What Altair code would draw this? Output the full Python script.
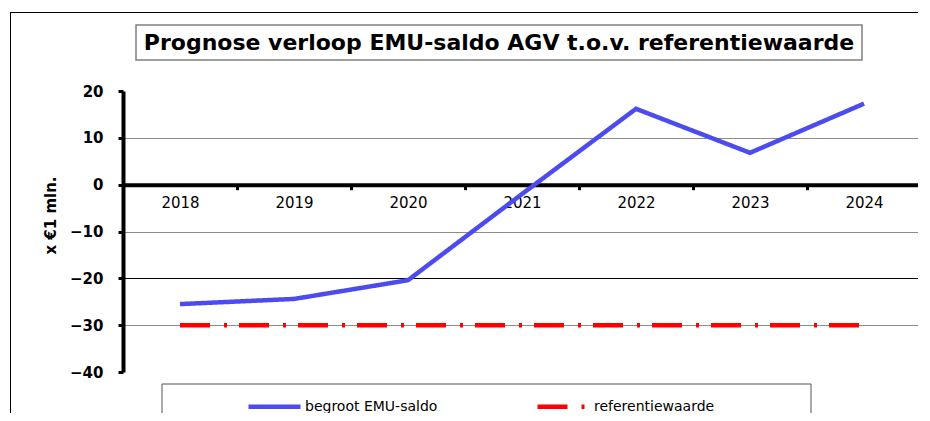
import altair as alt
import pandas as pd

# ---- data ----
years = ["2018", "2019", "2020", "2021", "2022", "2023", "2024"]
begroot_emu_saldo = [-25.5, -24.4, -20.4, -2.0, 16.2, 6.8, 17.3]
referentiewaarde = [-30, -30, -30, -30, -30, -30, -30]
series_names = ["begroot EMU-saldo", "referentiewaarde"]
y_ticks = [20, 10, 0, -10, -20, -30, -40]
title_text = "Prognose verloop EMU-saldo AGV t.o.v. referentiewaarde"
y_title = "x €1 mln."

rows = []
for yr, v in zip(years, begroot_emu_saldo):
    rows.append({"year": yr, "value": v, "series": series_names[0]})
for yr, v in zip(years, referentiewaarde):
    rows.append({"year": yr, "value": v, "series": series_names[1]})
df = pd.DataFrame(rows)

W, H = 798, 281
Y_MIN, Y_MAX = -40, 20
zero_px = H * Y_MAX / (Y_MAX - Y_MIN)
x_offset = -(H - zero_px)

BLUE = "#4b4bf0"
RED = "#ff0000"
FONT = "DejaVu Sans"

one = pd.DataFrame({"k": [0]})

frame_left = alt.Chart(one).mark_rect(fill="black", strokeWidth=0).encode(
    x=alt.value(-113), x2=alt.value(-112), y=alt.value(-79), y2=alt.value(H + 41)
)
frame_top = alt.Chart(one).mark_rect(fill="black", strokeWidth=0).encode(
    x=alt.value(-113), x2=alt.value(W - 2), y=alt.value(-79), y2=alt.value(-78)
)
edge_cover = alt.Chart(one).mark_rect(fill="white", strokeWidth=0).encode(
    x=alt.value(W - 3), x2=alt.value(W + 1), y=alt.value(-80), y2=alt.value(H + 41)
)

title_box = alt.Chart(one).mark_rect(fill="white", stroke="#808080", strokeWidth=1.5).encode(
    x=alt.value(13), x2=alt.value(739), y=alt.value(-66), y2=alt.value(-31)
)
title = alt.Chart(one).mark_text(
    text=title_text, font=FONT, fontWeight="bold", fontSize=22, color="black",
    align="center", baseline="middle"
).encode(x=alt.value(376), y=alt.value(-48))

legend_box_left = alt.Chart(one).mark_rule(color="#555555", strokeWidth=1).encode(
    x=alt.value(39), y=alt.value(293), y2=alt.value(H + 41)
)
legend_box_right = alt.Chart(one).mark_rule(color="#555555", strokeWidth=1).encode(
    x=alt.value(688), y=alt.value(293), y2=alt.value(H + 41)
)
legend_box_top = alt.Chart(one).mark_rule(color="#555555", strokeWidth=1).encode(
    x=alt.value(39), x2=alt.value(688), y=alt.value(293)
)

legend = alt.Legend(
    title=None, orient="none", legendX=123, legendY=287, direction="horizontal",
    symbolType="stroke", symbolSize=2704, symbolStrokeWidth=4.5,
    labelFont=FONT, labelFontSize=14, labelColor="black", labelOffset=2,
    columnPadding=90, padding=0, labelLimit=300
)

lines = alt.Chart(df).mark_line(strokeWidth=4.5).encode(
    x=alt.X(
        "year:N",
        sort=years,
        scale=alt.Scale(type="band", domain=years, paddingInner=0, paddingOuter=0),
        axis=alt.Axis(
            title=None, orient="bottom", offset=x_offset, labelAngle=0,
            domainColor="black", domainWidth=4, tickColor="black", tickWidth=3,
            tickSize=5, tickBand="extent", labelFont=FONT, labelFontSize=15,
            labelColor="black", labelPadding=6, grid=False
        ),
    ),
    y=alt.Y(
        "value:Q",
        scale=alt.Scale(domain=[Y_MIN, Y_MAX], nice=False, zero=False),
        axis=alt.Axis(
            values=y_ticks, title=y_title, titleFont=FONT, titleFontSize=15,
            titleFontWeight="bold", titleColor="black", titleAngle=-90,
            titleX=-73, titleY=124, titleAlign="center", titleBaseline="middle",
            labelFont=FONT, labelFontWeight="bold", labelFontSize=15,
            labelColor="black", labelPadding=15, tickSize=5, tickWidth=3,
            tickColor="black", domainColor="black", domainWidth=4,
            gridColor={"condition": {"test": "datum.value === -20", "value": "black"}, "value": "#8c8c8c"},
            gridOpacity={"condition": {"test": "datum.value === 20 || datum.value === -40 || datum.value === 0", "value": 0}, "value": 1},
            gridWidth=1.2,
        ),
    ),
    color=alt.Color("series:N", scale=alt.Scale(domain=series_names, range=[BLUE, RED]), legend=legend),
    strokeDash=alt.StrokeDash(
        "series:N",
        scale=alt.Scale(domain=series_names, range=[[1, 0], [30, 14, 3, 12]]),
        legend=legend,
    ),
    order=alt.Order("year:N"),
)

chart = alt.layer(
    frame_left, frame_top, edge_cover, title_box, title,
    legend_box_left, legend_box_right, legend_box_top, lines
).properties(
    width=W, height=H,
    padding={"left": 115, "top": 83, "right": 1, "bottom": 41},
    autosize=alt.AutoSizeParams(type="none"),
    background="white",
).configure_view(stroke=None)

chart.save("out.html", embed_options={"renderer": "svg", "actions": False})
